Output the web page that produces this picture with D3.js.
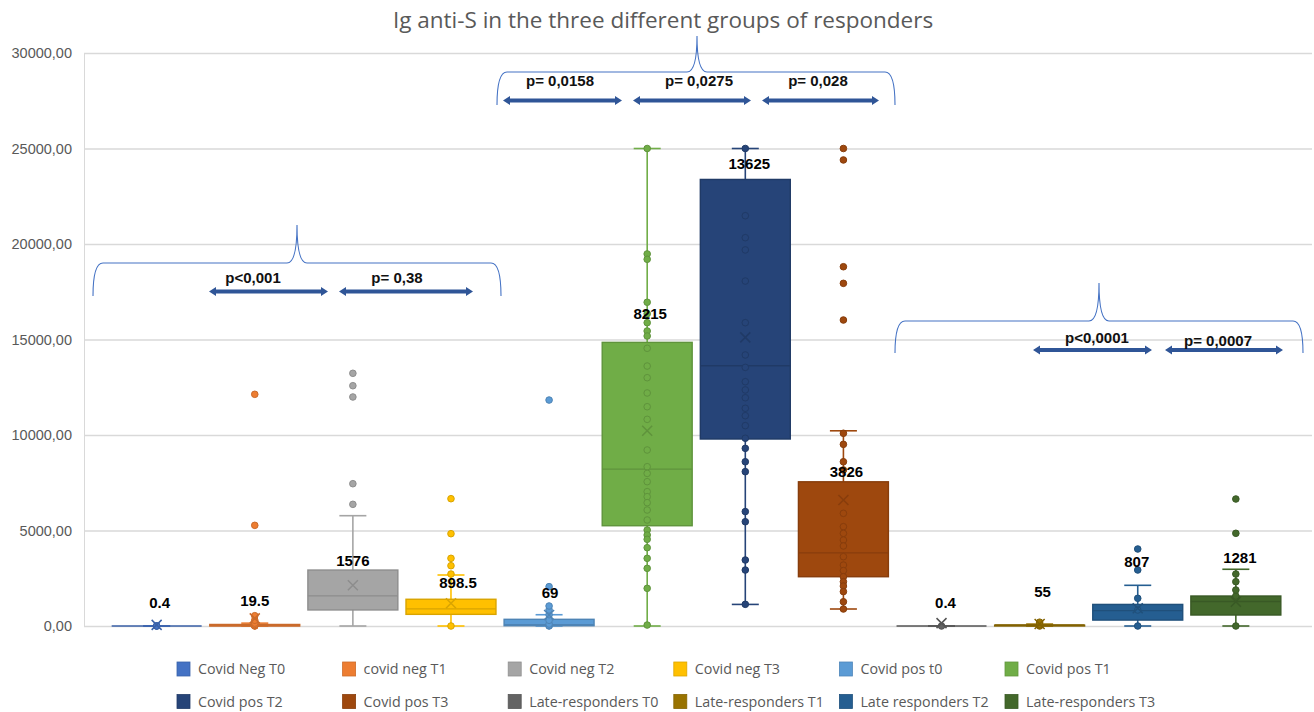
<!DOCTYPE html>
<html>
<head>
<meta charset="utf-8">
<script src="https://cdn.jsdelivr.net/npm/d3@7"></script>
<style>
  html, body { margin: 0; padding: 0; background: #fff; }
  svg { display: block; }
</style>
</head>
<body>
<svg id="chart" width="1314" height="712"></svg>
<script>
// ---- data ----
const categories = [
  "Covid Neg T0", "covid neg T1", "Covid neg T2", "Covid neg T3",
  "Covid pos t0", "Covid pos T1", "Covid pos T2", "Covid pos T3",
  "Late-responders T0", "Late-responders T1", "Late responders T2", "Late-responders T3"
];
const medians     = [0.4, 19.5, 1576, 898.5, 69, 8215, 13625, 3826, 0.4, 55, 807, 1281];
const q1Values    = [0, 0, 840, 610, 15, 5250, 9790, 2580, 0, 0, 310, 575];
const q3Values    = [0, 80, 2930, 1400, 350, 14850, 23380, 7550, 0, 40, 1130, 1570];
const whiskerLow  = [0, 0, 0, 0, 0, 0, 1130, 890, 0, 0, 0, 0];
const whiskerHigh = [0, 150, 5775, 2670, 590, 25000, 25000, 10220, 0, 100, 2130, 2970];
const means       = [60, 400, 2130, 1190, 580, 10220, 15110, 6600, 150, 100, 925, 1270];
const pointValues = [
  [0, 0.4, 2],
  [0, 10, 19.5, 40, 80, 150, 300, 540, 5270, 12130],
  [6370, 7450, 11990, 12580, 13230],
  [0, 2720, 3157, 3543, 4833, 6665],
  [0, 20, 100, 300, 590, 840, 1047, 2060, 11830],
  [25000, 19480, 19200, 16950, 16350, 15880, 15445, 15183, 14540, 13610, 13000, 12200,
   11480, 10820, 9215, 8340, 7990, 7556, 7033, 6771, 6457, 6073, 5550, 5026, 4764,
   4538, 4100, 3543, 3019, 1972, 50],
  [25000, 21480, 20330, 19690, 18060, 15880, 14190, 13540, 12790, 12360, 11950, 11400,
   11010, 10490, 9830, 9300, 8600, 8080, 5990, 5460, 3455, 2930, 1134],
  [25000, 24400, 18810, 17940, 16020, 10090, 9510, 8600, 8170, 5900, 5200, 4850, 4500,
   4190, 3630, 3190, 2900, 2580, 2320, 2090, 1800, 1270, 890],
  [0],
  [0, 50, 100, 200],
  [0, 837, 1450, 2932, 4031],
  [0, 1571, 1885, 2320, 2722, 4853, 6649]
];
const yTicks = [0, 5000, 10000, 15000, 20000, 25000, 30000];
const pTexts = ["p<0,001", "p= 0,38", "p= 0,0158", "p= 0,0275", "p= 0,028", "p<0,0001", "p= 0,0007"];

// ---- styling / layout ----
const colors = ["#4472C4", "#ED7D31", "#A5A5A5", "#FFC000", "#5B9BD5", "#70AD47",
                "#264478", "#9E480E", "#636363", "#997300", "#255E91", "#43682B"];
const labelLift = [18, 18, 4, 11, 21, 23, 10, 5, 18, 28, 37, 33]; // px between box top and label baseline
const labelShift = [3, 0, 0, 7, 1, 3, 4, 3, 4, 3, -1, 4];

const svg = d3.select("#chart");
const plot = { left: 84, right: 1312, top: 53, bottom: 626 };

const x = d3.scaleBand()
  .domain(categories)
  .range([107.6, 1284.9])
  .paddingInner(0.083)
  .paddingOuter(0.0415);
const y = d3.scaleLinear().domain([0, 30000]).range([plot.bottom, plot.top]);

const fmt = v => d3.format(".2f")(v).replace(".", ",");

// title
svg.append("text")
  .attr("x", 663).attr("y", 28)
  .attr("text-anchor", "middle")
  .attr("font-family", "Open Sans, sans-serif")
  .attr("font-size", 22.5)
  .attr("fill", "#595959")
  .text("Ig anti-S in the three different groups of responders");

// grid + y axis
const yAxis = d3.axisLeft(y).tickValues(yTicks).tickFormat(fmt)
  .tickSize(-(plot.right - plot.left)).tickPadding(12);
const ga = svg.append("g").attr("transform", `translate(${plot.left},0)`).call(yAxis);
ga.select(".domain").attr("stroke", "#d9d9d9");
ga.selectAll(".tick line").attr("stroke", "#d9d9d9").attr("stroke-width", 1.3);
ga.selectAll(".tick text")
  .attr("font-family", "Liberation Sans, sans-serif")
  .attr("font-size", 14.5).attr("fill", "#595959");

// boxes
const series = categories.map((c, i) => ({
  name: c, color: colors[i], median: medians[i], q1: q1Values[i], q3: q3Values[i],
  lo: whiskerLow[i], hi: whiskerHigh[i], mean: means[i], points: pointValues[i], i
}));

const capW = 27;
const g = svg.append("g");
series.forEach(s => {
  const cx = x(s.name) + x.bandwidth() / 2;
  const dark = d3.color(s.color).darker(0.45).formatHex();
  const gg = g.append("g");
  // whiskers
  gg.append("line").attr("x1", cx).attr("x2", cx).attr("y1", y(s.lo)).attr("y2", y(s.hi))
    .attr("stroke", s.color).attr("stroke-width", 1.6);
  [s.lo, s.hi].forEach(v => gg.append("line")
    .attr("x1", cx - capW / 2).attr("x2", cx + capW / 2).attr("y1", y(v)).attr("y2", y(v))
    .attr("stroke", s.color).attr("stroke-width", 1.6));
  // box
  gg.append("rect")
    .attr("x", x(s.name)).attr("width", x.bandwidth())
    .attr("y", y(s.q3)).attr("height", Math.max(0, y(s.q1) - y(s.q3)))
    .attr("fill", s.color).attr("stroke", dark).attr("stroke-width", 1.4);
  // median
  gg.append("line").attr("x1", x(s.name)).attr("x2", x(s.name) + x.bandwidth())
    .attr("y1", y(s.median)).attr("y2", y(s.median))
    .attr("stroke", dark).attr("stroke-width", 1.4);
  // points
  gg.selectAll("circle").data(s.points).join("circle")
    .attr("cx", cx).attr("cy", d => y(d)).attr("r", 3.3)
    .attr("fill", s.color).attr("stroke", dark).attr("stroke-width", 1);
  // mean marker
  const my = y(s.mean), m = 5;
  gg.append("path")
    .attr("d", `M${cx - m},${my - m}L${cx + m},${my + m}M${cx - m},${my + m}L${cx + m},${my - m}`)
    .attr("stroke", dark).attr("stroke-width", 1.5).attr("fill", "none");
  // median value label
  gg.append("text")
    .attr("x", cx + labelShift[s.i]).attr("y", y(s.q3) - labelLift[s.i])
    .attr("text-anchor", "middle")
    .attr("font-family", "Liberation Sans, sans-serif")
    .attr("font-weight", "bold").attr("font-size", 15).attr("fill", "#000")
    .text(String(s.median));
});

// legend
const legend = svg.append("g").attr("font-family", "Open Sans, sans-serif");
series.forEach((s, i) => {
  const col = i % 6, row = Math.floor(i / 6);
  const lx = 177 + col * 165.6, ly = 662 + row * 32.5;
  legend.append("rect").attr("x", lx).attr("y", ly).attr("width", 13).attr("height", 14)
    .attr("fill", s.color).attr("stroke", d3.color(s.color).darker(0.4)).attr("stroke-width", 0.8);
  legend.append("text").attr("x", lx + 21).attr("y", ly + 12)
    .attr("font-size", 14.3).attr("fill", "#595959").text(s.name);
});

// comparison braces and arrows
const ann = svg.append("g");
function brace(x0, x1, xm, yBase, yEnd, yTop) {
  const r = 10;
  const d = `M${x0},${yEnd} Q${x0},${yBase} ${x0 + r},${yBase} L${xm - r},${yBase}` +
            ` Q${xm},${yBase} ${xm},${yTop} Q${xm},${yBase} ${xm + r},${yBase}` +
            ` L${x1 - r},${yBase} Q${x1},${yBase} ${x1},${yEnd}`;
  ann.append("path").attr("d", d).attr("fill", "none")
    .attr("stroke", "#4472C4").attr("stroke-width", 1.1);
}
function arrow(x0, x1, ay) {
  const h = 7, w = 4.5;
  ann.append("line").attr("x1", x0 + h - 1).attr("x2", x1 - h + 1).attr("y1", ay).attr("y2", ay)
    .attr("stroke", "#2F5597").attr("stroke-width", 4);
  ann.append("path")
    .attr("d", `M${x0},${ay} L${x0 + h},${ay - w} L${x0 + h},${ay + w} Z M${x1},${ay} L${x1 - h},${ay - w} L${x1 - h},${ay + w} Z`)
    .attr("fill", "#2F5597");
}
function pLabel(txt, px, py) {
  ann.append("text").attr("x", px).attr("y", py).attr("text-anchor", "middle")
    .attr("font-family", "Liberation Sans, sans-serif").attr("font-weight", "bold")
    .attr("font-size", 15).attr("fill", "#111").text(txt);
}

brace(93, 501, 297, 263, 296, 225);
arrow(209, 328, 291.5); arrow(339, 473, 291.5);
pLabel(pTexts[0], 253, 283); pLabel(pTexts[1], 397, 283);

brace(497, 895, 697, 72, 105, 36);
arrow(503, 622, 100.5); arrow(633, 751, 100.5); arrow(762, 879, 100.5);
pLabel(pTexts[2], 560, 86); pLabel(pTexts[3], 699, 86); pLabel(pTexts[4], 818, 86);

brace(895, 1303, 1099, 321, 353, 283);
arrow(1033, 1152, 350); arrow(1165, 1283, 350);
pLabel(pTexts[5], 1097, 343); pLabel(pTexts[6], 1218, 346);
</script>
</body>
</html>
